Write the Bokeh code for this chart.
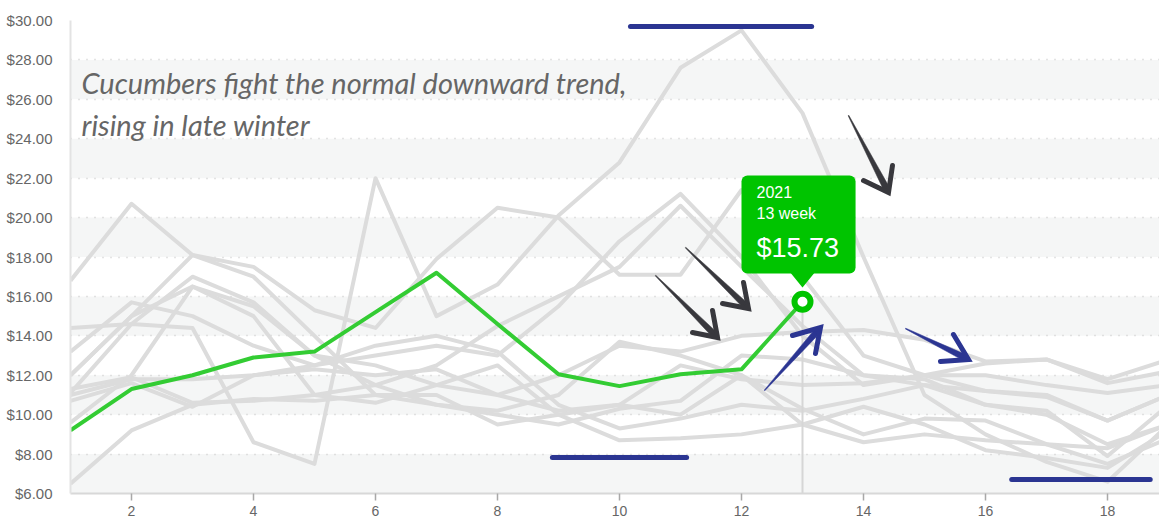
import numpy as np
from bokeh.plotting import figure
from bokeh.models import Range1d, FixedTicker, BoxAnnotation, Label, NumeralTickFormatter
from bokeh.embed import file_html
from bokeh.resources import INLINE

# ---------------- data ----------------
weeks = list(range(1, 20))
x_ticks = [2, 4, 6, 8, 10, 12, 14, 16, 18]
y_ticks = list(range(6, 31, 2))

highlight_year = "2021"
highlight_week = 13
highlight_weeks = list(range(1, 14))
highlight_prices = [9.2, 11.3, 12.0, 12.9, 13.2, 15.2, 17.2, 14.6, 12.05, 11.45, 12.05, 12.3, 15.73]

other_1 = [11.1, 14.6, 14.4, 8.6, 7.5, 22.0, 15.0, 16.6, 20.1, 22.8, 27.6, 29.5, 25.3, 18.0, 11.0, 9.0, 7.6, 6.6, 9.5]
other_2 = [16.8, 20.7, 18.1, 17.5, 15.3, 14.4, 17.9, 20.5, 20.0, 17.1, 17.1, 21.4, 17.0, 13.0, 12.0, 11.2, 11.0, 9.7, 11.0]
other_3 = [14.4, 14.6, 17.0, 15.7, 13.0, 12.5, 11.5, 11.0, 12.0, 13.5, 13.2, 14.0, 14.2, 14.3, 13.8, 12.7, 12.8, 11.6, 12.2]
other_4 = [13.2, 15.7, 15.0, 13.5, 12.5, 13.5, 14.0, 13.2, 10.5, 9.3, 9.8, 10.5, 10.2, 10.8, 11.5, 11.2, 10.9, 9.7, 11.0]
other_5 = [12.0, 15.0, 18.1, 17.0, 14.0, 11.0, 10.5, 10.2, 11.0, 13.7, 13.0, 12.0, 9.5, 8.6, 9.0, 8.7, 8.5, 8.3, 9.5]
other_6 = [11.3, 11.9, 10.6, 10.7, 11.0, 11.5, 10.5, 10.0, 9.5, 10.3, 10.7, 13.0, 12.8, 12.0, 11.8, 10.5, 10.2, 7.9, 10.5]
other_7 = [10.7, 11.6, 10.4, 12.0, 12.3, 12.0, 12.3, 11.0, 10.2, 10.5, 12.5, 11.8, 11.5, 11.6, 12.0, 12.0, 11.5, 11.1, 11.5]
other_8 = [9.6, 12.0, 16.5, 15.0, 11.0, 10.6, 11.5, 12.5, 10.0, 8.7, 8.8, 9.0, 9.5, 10.4, 9.5, 8.2, 7.8, 7.3, 9.2]
other_9 = [6.5, 9.2, 10.5, 10.8, 10.7, 11.0, 11.0, 9.5, 10.0, 10.5, 10.0, 12.0, 10.3, 9.0, 9.8, 9.7, 8.5, 7.5, 8.8]
other_10 = [12.0, 15.0, 16.5, 15.5, 13.0, 11.5, 12.5, 14.5, 16.0, 17.5, 20.6, 17.5, 14.5, 12.0, 11.5, 10.5, 10.0, 8.5, 9.5]
other_11 = [11.0, 11.8, 11.8, 12.0, 12.5, 13.0, 13.5, 13.0, 15.5, 18.8, 21.2, 18.0, 14.0, 11.5, 12.0, 12.6, 12.8, 11.8, 12.8]
other_years = [other_1, other_2, other_3, other_4, other_5, other_6, other_7, other_8, other_9, other_10, other_11]

note_lines = ["Cucumbers fight the normal downward trend,", "rising in late winter"]

# annotation geometry (data units)
blue_bars = [((10.18, 13.15), 29.69), ((8.90, 11.10), 7.83), ((16.43, 18.70), 6.71)]
# (tail, tip, arm1, arm2, color)
DARK = "#38383d"
NAVY = "#2b3592"
arrows = [
    ((13.754, 25.178), (14.410, 21.272), (14.475, 22.641), (14.00, 21.88), DARK),
    ((11.082, 18.481), (12.115, 15.386), (12.033, 16.705), (11.689, 15.640), DARK),
    ((10.590, 17.061), (11.607, 13.915), (11.525, 15.285), (11.197, 14.168), DARK),
    ((12.377, 11.226), (13.295, 14.422), (13.213, 13.103), (12.836, 14.016), NAVY),
    ((14.689, 14.371), (15.721, 12.799), (15.475, 14.067), (15.262, 12.697), NAVY),
]

# ---------------- figure ----------------
W, H = 1159, 532
BL, BR, BT, BB = 70, 0, 20, 39
fw, fh = W - BL - BR, H - BT - BB
PX_X = 61.0
x_end = 1 + fw / PX_X
PX_Y = fh / 24.0

p = figure(width=W, height=H, output_backend="svg", toolbar_location=None,
           x_range=Range1d(1, x_end), y_range=Range1d(6, 30),
           min_border_left=BL, min_border_right=BR, min_border_top=BT, min_border_bottom=BB)
p.outline_line_color = None
p.background_fill_color = "white"

# bands
for b in range(6, 30, 4):
    p.add_layout(BoxAnnotation(bottom=b, top=b + 2, fill_color="#f5f6f6", fill_alpha=1,
                               line_color=None, level="image"))

p.xgrid.visible = False
p.ygrid.ticker = FixedTicker(ticks=y_ticks)
p.ygrid.grid_line_color = "#c8c8c8"
p.ygrid.grid_line_dash = "1 7"
p.ygrid.grid_line_width = 1.5

p.yaxis.ticker = FixedTicker(ticks=y_ticks)
p.yaxis.formatter = NumeralTickFormatter(format="$0.00")
p.yaxis.axis_line_color = "#e3e3e3"
p.yaxis.axis_line_width = 2
p.yaxis.major_tick_line_color = None
p.yaxis.minor_tick_line_color = None
p.yaxis.major_label_standoff = 12
p.yaxis.major_label_text_color = "#666666"
p.yaxis.major_label_text_font = "Liberation Sans"
p.yaxis.major_label_text_font_size = "15px"

p.xaxis.ticker = FixedTicker(ticks=x_ticks)
p.xaxis.axis_line_color = "#d8d8d8"
p.xaxis.axis_line_width = 2
p.xaxis.major_tick_line_color = "#a8a8a8"
p.xaxis.major_tick_line_width = 1.5
p.xaxis.major_tick_out = 7
p.xaxis.major_tick_in = 0
p.xaxis.minor_tick_line_color = None
p.xaxis.major_label_standoff = 5
p.xaxis.major_label_text_color = "#666666"
p.xaxis.major_label_text_font = "Liberation Sans"
p.xaxis.major_label_text_font_size = "14px"

# gray years
for ys in other_years:
    p.line(weeks, ys, line_color="#dcdcdc", line_width=4, line_join="round")

# crosshair below highlighted point
hi_val = highlight_prices[highlight_weeks.index(highlight_week)]
p.segment(x0=[highlight_week], y0=[6], x1=[highlight_week], y1=[hi_val],
          line_color="#d6d6d6", line_width=2)

# highlighted year
p.line(highlight_weeks, highlight_prices, line_color="#33cc33", line_width=4, line_join="round")
p.scatter([highlight_week], [hi_val], size=16, fill_color="white",
          line_color="#00c400", line_width=6)

# blue bars
for (x0, x1), yv in blue_bars:
    p.line([x0, x1], [yv, yv], line_color=NAVY, line_width=5, line_cap="round")

# arrows
def to_px(pt):
    return np.array([(pt[0] - 1) * PX_X, (pt[1] - 6) * PX_Y])

def to_data(v):
    return (v[0] / PX_X + 1, v[1] / PX_Y + 6)

for tail, tip, a1, a2, col in arrows:
    t, h = to_px(tail), to_px(tip)
    d = h - t
    L = np.hypot(*d)
    u = d / L
    n = np.array([-u[1], u[0]])
    wt, wh = 0.4, 3.2
    end = h - u * 4
    poly = [t + n * wt, end + n * wh, h, end - n * wh, t - n * wt]
    xs, ys = zip(*[to_data(v) for v in poly])
    p.patch(list(xs), list(ys), fill_color=col, line_color=col, line_width=0.5)
    p.line([a1[0], tip[0], a2[0]], [a1[1], tip[1], a2[1]], line_color=col,
           line_width=5, line_join="miter", line_cap="round")

# handwritten note
for i, txt in enumerate(note_lines):
    p.add_layout(Label(x=1.18, y=26.85 - i * 2.13, text=txt, text_font="Lato",
                       text_font_style="italic", text_font_size="29px",
                       text_color="#666666", text_baseline="alphabetic"))

# tooltip
p.add_layout(BoxAnnotation(left=12.0, right=13.87, bottom=17.16, top=22.13,
                           fill_color="#00c400", fill_alpha=1, line_color=None,
                           border_radius=6))
p.patch([12.803, 13.197, 13.0], [17.2, 17.2, 16.45], fill_color="#00c400", line_color=None)
p.add_layout(Label(x=12.246, y=21.32, text=highlight_year, text_color="white",
                   text_font="Liberation Sans", text_font_size="16px", text_baseline="middle"))
p.add_layout(Label(x=12.246, y=20.21, text=f"{highlight_week} week", text_color="white",
                   text_font="Liberation Sans", text_font_size="16px", text_baseline="middle"))
p.add_layout(Label(x=12.246, y=18.48, text=f"${hi_val:.2f}", text_color="white",
                   text_font="Liberation Sans", text_font_size="27px", text_baseline="middle"))

# bold highlighted week label on the axis
p.add_layout(Label(x=highlight_week, y=6 - 19.5 / PX_Y, text=str(highlight_week),
                   text_align="center", text_baseline="middle", text_color="#333333",
                   text_font="Liberation Sans", text_font_style="bold", text_font_size="14px"))

open("out.html", "w").write(file_html(p, INLINE))
